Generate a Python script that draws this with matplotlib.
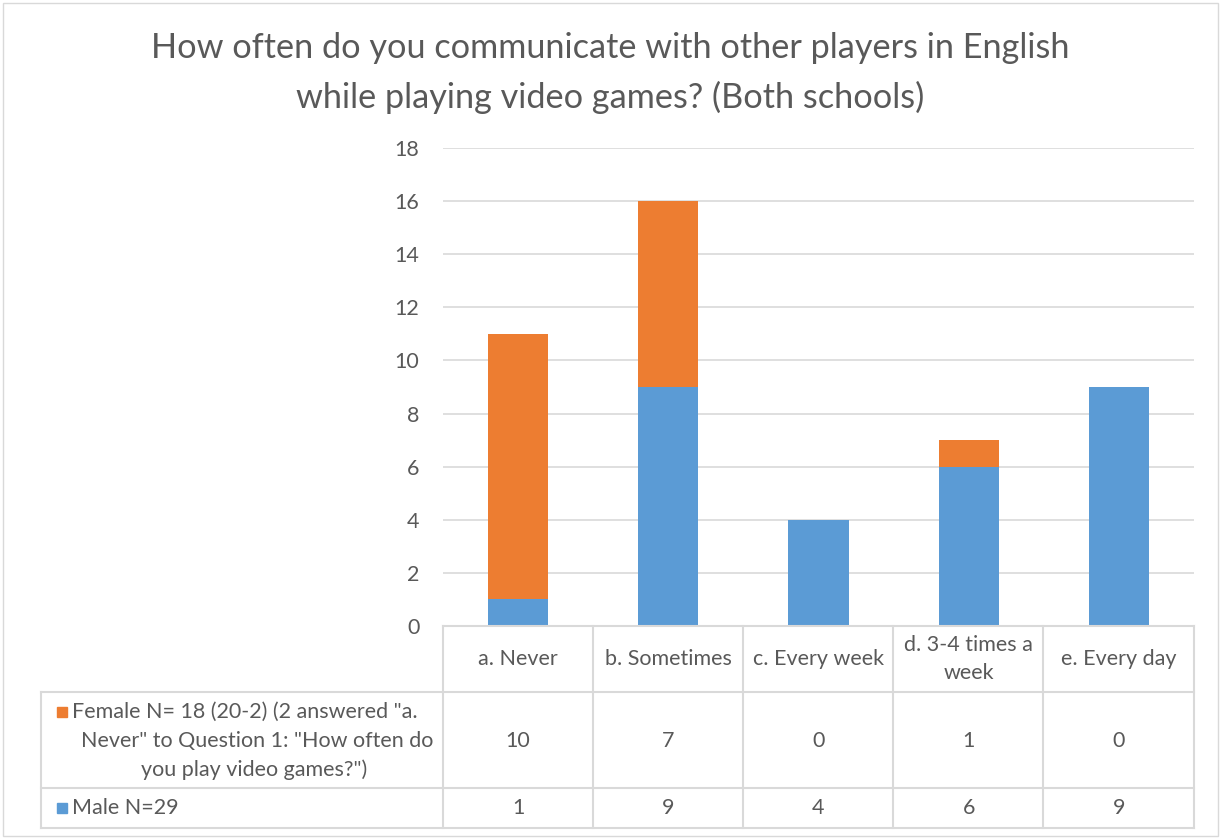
import matplotlib
matplotlib.use("Agg")
import matplotlib.pyplot as plt
from matplotlib.lines import Line2D
from matplotlib.patches import Rectangle
from matplotlib.transforms import blended_transform_factory

categories = ["a. Never", "b. Sometimes", "c. Every week", "d. 3-4 times a\nweek", "e. Every day"]
male = [1, 9, 4, 6, 9]
female = [10, 7, 0, 1, 0]
female_label = ['Female N= 18 (20-2) (2 answered "a.',
                'Never" to Question 1: "How often do',
                'you play video games?")']
male_label = "Male N=29"
yticks = list(range(0, 19, 2))

c_male = "#5B9BD5"
c_female = "#ED7D31"
c_text = "#595959"
c_grid = "#D9D9D9"
fs = 15.5

plt.rcParams['font.family'] = ['Lato', 'DejaVu Sans']

W, H = 1221, 839
fig = plt.figure(figsize=(W / 100, H / 100), dpi=100)

def fx(px):
    return px / W

def fy(py):
    return 1 - py / H

# plot area in pixels
x0, x1, ytop, ybot = 443, 1194, 148, 626
ax = fig.add_axes([fx(x0), fy(ybot), fx(x1) - fx(x0), fy(ytop) - fy(ybot)])

xs = list(range(len(categories)))
ax.bar(xs, male, width=0.4, color=c_male, zorder=3)
ax.bar(xs, female, width=0.4, bottom=male, color=c_female, zorder=3)
ax.set_xlim(-0.5, len(categories) - 0.5)
ax.set_ylim(0, 18)
ax.set_yticks(yticks)
ax.set_xticks([])
ax.grid(axis='y', color=c_grid, lw=1.2, zorder=0)
for s in ax.spines.values():
    s.set_visible(False)
ax.tick_params(axis='y', length=0, pad=17, labelsize=fs, labelcolor=c_text)

# title
fig.text(0.5, fy(48), "How often do you communicate with other players in English",
         ha='center', va='center', fontsize=24.7, color=c_text)
fig.text(0.5, fy(97), "while playing video games? (Both schools)",
         ha='center', va='center', fontsize=24.7, color=c_text)

# data table
def hline(y, xa, xb):
    fig.add_artist(Line2D([fx(xa), fx(xb)], [fy(y), fy(y)], color=c_grid, lw=1.5))

def vline(x, ya, yb):
    fig.add_artist(Line2D([fx(x), fx(x)], [fy(ya), fy(yb)], color=c_grid, lw=1.5))

hline(626, 443, 1194)
for y in (692, 788, 828):
    hline(y, 41, 1194)
vline(41, 692, 828)
for x in (443, 593, 743, 893, 1043, 1194):
    vline(x, 626, 828)

tr = blended_transform_factory(ax.transData, fig.transFigure)
for i, cat in enumerate(categories):
    fig.text(i, fy(659), cat, transform=tr, ha='center', va='center',
             fontsize=fs, color=c_text, linespacing=1.45)
    fig.text(i, fy(741), str(female[i]), transform=tr, ha='center', va='center',
             fontsize=fs, color=c_text)
    fig.text(i, fy(808), str(male[i]), transform=tr, ha='center', va='center',
             fontsize=fs, color=c_text)

# row labels with legend keys
fig.add_artist(Rectangle((fx(57), fy(717)), fx(10), fy(0) - fy(10), color=c_female,
                         transform=fig.transFigure))
fig.text(fx(72), fy(712), female_label[0], ha='left', va='center', fontsize=fs, color=c_text)
fig.text(fx(257), fy(741), female_label[1], ha='center', va='center', fontsize=fs, color=c_text)
fig.text(fx(254), fy(770), female_label[2], ha='center', va='center', fontsize=fs, color=c_text)

fig.add_artist(Rectangle((fx(57), fy(813)), fx(10), fy(0) - fy(10), color=c_male,
                         transform=fig.transFigure))
fig.text(fx(72), fy(808), male_label, ha='left', va='center', fontsize=fs, color=c_text)

# chart border
fig.add_artist(Rectangle((fx(3), fy(836)), fx(1215), fy(3) - fy(836), fill=False,
                         edgecolor=c_grid, lw=1, transform=fig.transFigure))

fig.savefig("out.png", dpi=100)
